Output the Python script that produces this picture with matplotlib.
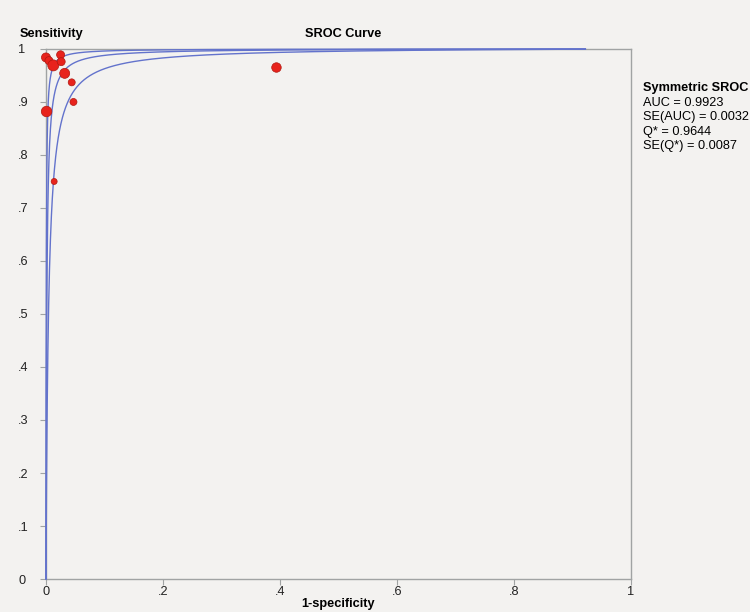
import matplotlib.pyplot as plt
import numpy as np

plt.rcParams['font.family'] = ['Liberation Sans', 'DejaVu Sans']

# Study points (1-specificity, sensitivity) and marker diameters in px
fpr = [0.000, 0.005, 0.0125, 0.025, 0.026, 0.032, 0.044, 0.047, 0.001, 0.014, 0.394]
sens = [0.984, 0.978, 0.969, 0.989, 0.976, 0.954, 0.937, 0.900, 0.882, 0.750, 0.965]
sizes = [9, 8, 11, 8, 8, 10, 7, 7, 10.5, 6, 9.5]

# Symmetric SROC: logit(TPR) = a + logit(FPR), with a = 2*logit(Q*)
q_star = 0.9644
a_mid = 2 * np.log(q_star / (1 - q_star))
a_offsets = [-1.15, 0.0, 1.15]
x_end = 0.922

xticks = [0, 0.2, 0.4, 0.6, 0.8, 1]
xticklabels = ['0', '.2', '.4', '.6', '.8', '1']
yticks = [0, 0.1, 0.2, 0.3, 0.4, 0.5, 0.6, 0.7, 0.8, 0.9, 1]
yticklabels = ['0', '.1', '.2', '.3', '.4', '.5', '.6', '.7', '.8', '.9', '1']

legend_lines = ['AUC = 0.9923', 'SE(AUC) = 0.0032', 'Q* = 0.9644', 'SE(Q*) = 0.0087']

bg = '#f3f2f0'
spine_col = '#a0a3a3'
fs = 9.2

fig = plt.figure(figsize=(7.5, 6.12), dpi=100)
fig.patch.set_facecolor(bg)
ax = fig.add_axes([0.0613, 0.0539, 0.78, 0.8661])
ax.set_facecolor(bg)

x = np.linspace(1e-6, x_end, 4000)
lx = np.log(x / (1 - x))
for off in a_offsets:
    y = 1 / (1 + np.exp(-(a_mid + off + lx)))
    ax.plot(np.concatenate([[0], x]), np.concatenate([[0], y]),
            color='#6373cc', linewidth=1.0, zorder=3, clip_on=False)

ms = (np.array(sizes) * 72 / 100) ** 2
ax.scatter(fpr, sens, s=ms, color='#e8231c', edgecolors='#b01810',
           linewidths=0.5, zorder=4, clip_on=False)

ax.set_xlim(0, 1)
ax.set_ylim(0, 1)
ax.set_xticks(xticks)
ax.set_xticklabels(xticklabels)
ax.set_yticks(yticks)
ax.set_yticklabels(yticklabels)
ax.tick_params(axis='both', colors=spine_col, labelcolor='#222222',
               labelsize=fs, length=4, width=0.8)
ax.tick_params(axis='y', pad=16)
ax.tick_params(axis='x', pad=1)
for lab in ax.get_yticklabels():
    lab.set_horizontalalignment('left')
for sp in ax.spines.values():
    sp.set_color(spine_col)
    sp.set_linewidth(1.0)

ax.set_xlabel('1-specificity', fontweight='bold', fontsize=fs, labelpad=0)
fig.text(20 / 750, 1 - 34 / 612, 'Sensitivity', fontweight='bold',
         fontsize=fs, va='center', ha='left')
fig.text(305 / 750, 1 - 34 / 612, 'SROC Curve', fontweight='bold',
         fontsize=fs, va='center', ha='left')

fig.text(643 / 750, 1 - 88 / 612, 'Symmetric SROC', fontweight='bold',
         fontsize=fs, va='center', ha='left')
for i, line in enumerate(legend_lines):
    fig.text(643 / 750, 1 - (103 + 14.4 * i) / 612, line,
             fontsize=fs, va='center', ha='left')

fig.savefig('out.png', dpi=100, facecolor=bg)
